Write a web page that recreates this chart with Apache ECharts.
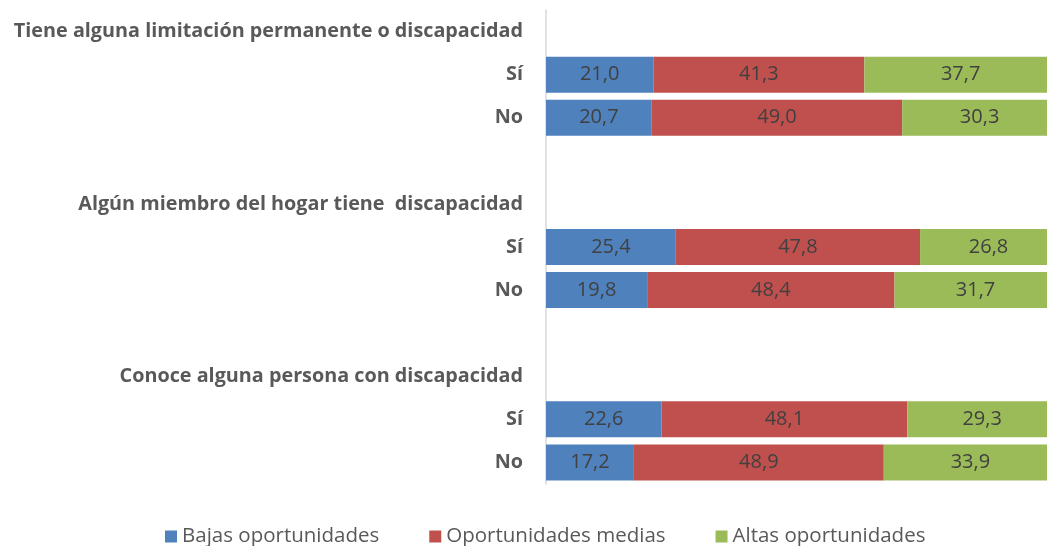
<!DOCTYPE html>
<html>
<head>
<meta charset="utf-8">
<script src="https://cdn.jsdelivr.net/npm/echarts@6/dist/echarts.min.js"></script>
<style>
  html, body { margin: 0; padding: 0; background: #fff; overflow: hidden; }
  /* the 0–100 scale runs a little past the right edge of the window */
  #chart { width: 1057px; height: 546px; }
</style>
</head>
<body>
<div id="chart"></div>
<script>
// Row labels, top to bottom. Group titles sit on their own row; '' rows are spacers.
const categories = [
  'Tiene alguna limitación permanente o discapacidad', 'Sí', 'No', '',
  'Algún miembro del hogar tiene  discapacidad', 'Sí', 'No', '',
  'Conoce alguna persona con discapacidad', 'Sí', 'No'
];
const seriesNames = ['Bajas oportunidades', 'Oportunidades medias', 'Altas oportunidades'];
// '-' marks rows without a bar (titles and spacers)
const bajas  = ['-', 21.0, 20.7, '-', '-', 25.4, 19.8, '-', '-', 22.6, 17.2];
const medias = ['-', 41.3, 49.0, '-', '-', 47.8, 48.4, '-', '-', 48.1, 48.9];
const altas  = ['-', 37.7, 30.3, '-', '-', 26.8, 31.7, '-', '-', 29.3, 33.9];
const colors = ['#4F81BD', '#C0504D', '#9BBB59'];

const FONT = '"Open Sans", sans-serif';
const fmt = v => Number(v).toFixed(1).replace('.', ',');

function barSeries(name, data, color) {
  return {
    name: name,
    type: 'bar',
    stack: 'total',
    data: data,
    barWidth: 36,
    itemStyle: { color: color },
    label: {
      show: true,
      position: 'inside',
      formatter: p => fmt(p.value),
      color: '#404040',
      fontFamily: FONT,
      fontSize: 20
    },
    emphasis: { disabled: true }
  };
}

const chart = echarts.init(document.getElementById('chart'), null, { renderer: 'canvas' });
chart.setOption({
  animation: false,
  textStyle: { fontFamily: FONT },
  grid: { left: 546, right: 0, top: 10, bottom: 62, containLabel: false },
  xAxis: {
    type: 'value',
    min: 0,
    max: 100,
    show: false
  },
  yAxis: {
    type: 'category',
    data: categories,
    inverse: true,
    axisLine: { show: true, lineStyle: { color: '#D9D9D9', width: 1.5 } },
    axisTick: { show: false },
    splitLine: { show: false },
    axisLabel: {
      margin: 23,
      color: '#595959',
      fontFamily: FONT,
      fontWeight: 'bold',
      fontSize: 19.8,
      interval: 0
    }
  },
  legend: {
    top: 526,
    left: 165,
    padding: 0,
    icon: 'rect',
    itemWidth: 12,
    itemHeight: 12,
    itemGap: 50,
    data: seriesNames,
    textStyle: { color: '#595959', fontFamily: FONT, fontSize: 20.5 }
  },
  series: [
    barSeries(seriesNames[0], bajas, colors[0]),
    barSeries(seriesNames[1], medias, colors[1]),
    barSeries(seriesNames[2], altas, colors[2])
  ]
});
</script>
</body>
</html>
